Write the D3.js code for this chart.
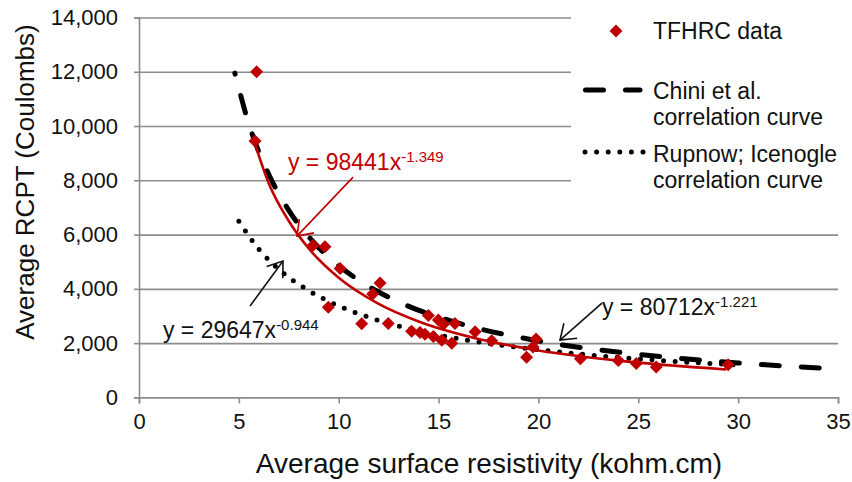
<!doctype html>
<html>
  <head>
    <title>RCPT vs surface resistivity</title>
    <script src="https://d3js.org/d3.v7.min.js"></script>
    <style>
      body { margin: 0; background: #fff; }
      text { font-family: "Liberation Sans", Arial, sans-serif; fill: #111; }
    </style>
  </head>
  <body>
    <svg id="chart" width="852" height="482"></svg>
    <script>
      // TFHRC measured points (kohm.cm, Coulombs)
      var resistivity = [5.89, 5.81, 8.71, 9.31, 10.07, 12.07, 11.7, 9.48, 11.15, 12.48,
                         14.49, 14.99, 15.24, 15.82, 13.65, 14.07, 14.32, 14.74, 15.16, 15.66,
                         16.83, 17.66, 19.88, 19.73, 19.41, 22.1, 24.0, 24.9, 25.9, 29.5];
      var rcpt = [12000, 9450, 5600, 5550, 4750, 4220, 3810, 3320, 2710, 2720,
                  3020, 2850, 2700, 2720, 2440, 2390, 2330, 2240, 2110, 2000,
                  2420, 2090, 2150, 1860, 1480, 1420, 1360, 1250, 1120, 1200];

      // curves
      var fitX = [5.8, 6.5, 7.5, 8.5, 10, 12, 14, 17, 20, 24, 29.4];
      var fitY = [9350, 7885, 6500, 5486, 4409, 3447, 2799, 2155, 1731, 1354, 1029];
      var chiniX = [4.8, 5.5, 6.5, 7.5, 9, 11, 13, 16, 20, 25, 30, 35];
      var chiniY = [11950, 10074, 8217, 6894, 5518, 4318, 3521, 2735, 2081, 1585, 1269, 1051];
      var rupnowX = [5, 6, 7, 8.5, 10, 12, 15, 18, 22, 26, 30];
      var rupnowY = [6493, 5465, 4723, 3934, 3371, 2838, 2301, 1938, 1602, 1367, 1195];

      var xTicks = [0, 5, 10, 15, 20, 25, 30, 35];
      var yTicks = [0, 2000, 4000, 6000, 8000, 10000, 12000, 14000];
      var legendNames = ['TFHRC data', ['Chini et al.', 'correlation curve'], ['Rupnow; Icenogle', 'correlation curve']];

      // equation labels: text, exponent, label anchor, arrow tail, arrow tip
      var eqText = ['y = 98441x', 'y = 29647x', 'y = 80712x'];
      var eqExp = ['-1.349', '-0.944', '-1.221'];
      var eqAt = [[7.46, 8375], [1.2, 2188], [23.18, 3035]];
      var eqTail = [[10.72, 8117], [5.56, 3366], [23.18, 3477]];
      var eqTip = [[7.91, 5944], [7.21, 5024], [21.08, 2114]];
      var eqColor = ['#c00000', '#111', '#111'];

      var red = '#c00000';
      var grey = '#8c8c8c';
      var svg = d3.select('#chart');

      var x = d3.scaleLinear().domain([0, 35]).range([139, 838]);
      var y = d3.scaleLinear().domain([0, 14000]).range([397.4, 17.5]);

      // arrow heads
      var defs = svg.append('defs');
      ['#c00000', '#111'].forEach(function(c, i) {
        defs.append('marker')
          .attr('id', 'head' + i)
          .attr('markerUnits', 'userSpaceOnUse')
          .attr('viewBox', '-20 -12 24 24')
          .attr('markerWidth', 24)
          .attr('markerHeight', 24)
          .attr('refX', 0)
          .attr('refY', 0)
          .attr('orient', 'auto')
          .append('path')
            .attr('d', 'M-14,-10L0,0L-14,10')
            .style('fill', 'none')
            .style('stroke', c)
            .style('stroke-width', 1.6);
      });

      // grid
      svg.append('g')
        .attr('transform', 'translate(139,0)')
        .call(d3.axisLeft(y).tickValues(yTicks.slice(1)).tickSize(-(838 - 139)).tickFormat(''))
        .call(function(g) { g.select('.domain').remove(); })
        .selectAll('line')
          .style('stroke', grey)
          .style('stroke-width', 1.6);

      // legend background hides grid behind it
      svg.append('rect')
        .attr('x', 571).attr('y', 0)
        .attr('width', 852 - 571).attr('height', 200)
        .style('fill', '#fff');

      var yAxis = svg.append('g')
        .attr('transform', 'translate(139,0)')
        .call(d3.axisLeft(y).tickValues(yTicks).tickSize(5).tickPadding(16).tickFormat(d3.format(',')));

      var xAxis = svg.append('g')
        .attr('transform', 'translate(0,397.4)')
        .call(d3.axisBottom(x).tickValues(xTicks).tickSize(6).tickPadding(10));

      [yAxis, xAxis].forEach(function(g) {
        g.selectAll('path, line').style('stroke', grey).style('stroke-width', 1.6);
        g.selectAll('text')
          .style('font-family', '"Liberation Sans", Arial, sans-serif')
          .style('font-size', '22px')
          .style('fill', '#111');
      });

      svg.append('text')
        .attr('transform', 'translate(34,182) rotate(-90)')
        .attr('text-anchor', 'middle')
        .style('font-size', '26px')
        .text('Average RCPT (Coulombs)');

      svg.append('text')
        .attr('x', 489)
        .attr('y', 473)
        .attr('text-anchor', 'middle')
        .style('font-size', '28px')
        .text('Average surface resistivity (kohm.cm)');

      // curves
      function curve(xs, ys) {
        return d3.line()
          .x(function(d) { return x(d); })
          .y(function(d, i) { return y(ys[i]); })
          .curve(d3.curveMonotoneX)(xs);
      }

      svg.append('path')
        .attr('d', curve(rupnowX, rupnowY))
        .style('fill', 'none')
        .style('stroke', '#000')
        .style('stroke-width', 5)
        .style('stroke-linecap', 'round')
        .style('stroke-dasharray', '0 11.6');

      svg.append('path')
        .attr('d', curve(chiniX, chiniY))
        .style('fill', 'none')
        .style('stroke', '#000')
        .style('stroke-width', 5)
        .style('stroke-linecap', 'round')
        .style('stroke-dasharray', '18 22')
        .style('stroke-dashoffset', 17);

      svg.append('path')
        .attr('d', curve(fitX, fitY))
        .style('fill', 'none')
        .style('stroke', red)
        .style('stroke-width', 2.6);

      var diamond = 'M0,-6.5L6.5,0L0,6.5L-6.5,0Z';
      svg.selectAll('path.pt')
        .data(resistivity)
        .enter()
        .append('path')
          .attr('class', 'pt')
          .attr('d', diamond)
          .attr('transform', function(d, i) { return 'translate(' + x(d) + ',' + y(rcpt[i]) + ')'; })
          .style('fill', red);

      // equations and arrows
      eqText.forEach(function(t, i) {
        svg.append('line')
          .attr('x1', x(eqTail[i][0])).attr('y1', y(eqTail[i][1]))
          .attr('x2', x(eqTip[i][0])).attr('y2', y(eqTip[i][1]))
          .attr('marker-end', 'url(#head' + (i === 0 ? 0 : 1) + ')')
          .style('stroke', eqColor[i])
          .style('stroke-width', 1.6);

        var lab = svg.append('text')
          .attr('x', x(eqAt[i][0]))
          .attr('y', y(eqAt[i][1]))
          .style('font-size', '23px')
          .style('fill', eqColor[i]);
        lab.append('tspan').text(t);
        lab.append('tspan')
          .attr('dy', -8)
          .style('font-size', '15px')
          .text(eqExp[i]);
      });

      // legend
      var leg = svg.append('g');
      leg.append('path')
        .attr('d', diamond)
        .attr('transform', 'translate(616,31)')
        .style('fill', red);
      leg.append('line')
        .attr('x1', 585.5).attr('x2', 640).attr('y1', 90).attr('y2', 90)
        .style('stroke', '#000').style('stroke-width', 5)
        .style('stroke-linecap', 'round').style('stroke-dasharray', '18 22');
      leg.append('line')
        .attr('x1', 585).attr('x2', 645).attr('y1', 152).attr('y2', 152)
        .style('stroke', '#000').style('stroke-width', 5)
        .style('stroke-linecap', 'round').style('stroke-dasharray', '0 11.6');

      var legBase = [[39], [99, 125], [162, 188]];
      legendNames.forEach(function(n, i) {
        var lines = Array.isArray(n) ? n : [n];
        lines.forEach(function(s, j) {
          leg.append('text')
            .attr('x', 653)
            .attr('y', legBase[i][j])
            .style('font-size', '23px')
            .text(s);
        });
      });
    </script>
  </body>
</html>
